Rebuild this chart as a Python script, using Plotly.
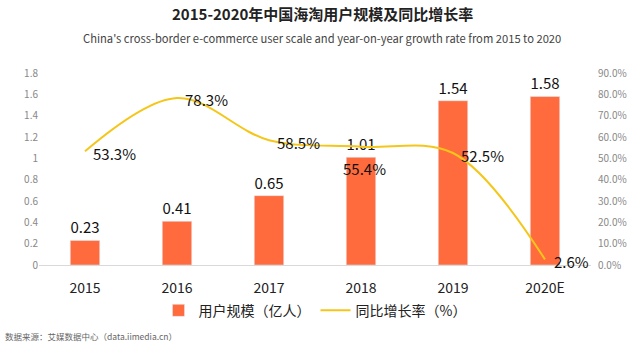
import plotly.graph_objects as go

years = ["2015", "2016", "2017", "2018", "2019", "2020E"]
users = [0.23, 0.41, 0.65, 1.01, 1.54, 1.58]
growth = [0.533, 0.783, 0.585, 0.554, 0.525, 0.026]
growth_labels = ["53.3%", "78.3%", "58.5%", "55.4%", "52.5%", "2.6%"]
left_ticks = [0, 0.2, 0.4, 0.6, 0.8, 1, 1.2, 1.4, 1.6, 1.8]
left_tick_text = ["0", "0.2", "0.4", "0.6", "0.8", "1", "1.2", "1.4", "1.6", "1.8"]
right_ticks = [0, 0.1, 0.2, 0.3, 0.4, 0.5, 0.6, 0.7, 0.8, 0.9]

# label placement for the growth line labels (anchor, xshift, yshift)
label_anchor = ["left", "left", "left", "center", "left", "left"]
label_xshift = [6, 6, 6, 3, 6, 7]
label_yshift = [-2, -2, -2, -22, -2, -2]

FONT = "Noto Sans CJK SC"
BAR_C = "#FF6B3D"
LINE_C = "#F5C61A"

fig = go.Figure()
fig.add_trace(go.Bar(
    x=years, y=users, name="用户规模（亿人）", marker_color=BAR_C,
    width=0.32, text=[f"{v:.2f}" for v in users], textposition="outside",
    textfont=dict(size=15, color="#111111", family=FONT), cliponaxis=False,
))
fig.add_trace(go.Scatter(
    x=years, y=growth, name="同比增长率（%）", yaxis="y2", mode="lines",
    line=dict(color=LINE_C, width=2, shape="spline", smoothing=1.0),
    cliponaxis=False,
))

annotations = [
    dict(text="<b>2015-2020年中国海淘用户规模及同比增长率</b>", xref="paper", yref="paper",
         x=0.5, y=(265 - 13) / 192, xanchor="center", yanchor="middle", showarrow=False,
         font=dict(size=15, color="#222222", family=FONT), xshift=7),
    dict(text="China's cross-border e-commerce user scale and year-on-year growth rate from 2015 to 2020",
         xref="paper", yref="paper", x=0.5, y=(265 - 38) / 192, xanchor="center", yanchor="middle",
         showarrow=False, font=dict(size=11.2, color="#444444", family=FONT), xshift=7),
    dict(text="数据来源：艾媒数据中心（data.iimedia.cn）", xref="paper", yref="paper",
         x=-39 / 552, y=(265 - 336) / 192, xanchor="left", yanchor="middle", showarrow=False,
         font=dict(size=8.5, color="#666666", family=FONT), xshift=3),
]
# category axis: annotation x is the category index
for idx, (g, lab, anc, xs, ys) in enumerate(zip(growth, growth_labels, label_anchor, label_xshift, label_yshift)):
    annotations.append(dict(
        text=lab, x=idx, y=g, xref="x", yref="y2", xanchor=anc, yanchor="middle",
        xshift=xs, yshift=ys, showarrow=False,
        font=dict(size=15, color="#111111", family=FONT),
    ))

fig.update_layout(
    width=640, height=348,
    margin=dict(l=39, r=49, t=73, b=83),
    paper_bgcolor="white", plot_bgcolor="white",
    font=dict(family=FONT, color="#333333"),
    showlegend=True,
    legend=dict(orientation="h", x=0.5, xanchor="center", y=-0.155, yanchor="top",
                font=dict(size=14, color="#222222", family=FONT), itemwidth=30,
                traceorder="normal"),
    xaxis=dict(type="category", categoryorder="array", categoryarray=years,
               showline=True, linecolor="#d9d9d9", linewidth=1, ticks="",
               tickfont=dict(size=14, color="#222222", family=FONT), showgrid=False,
               ticklabelstandoff=10),
    yaxis=dict(range=[0, 1.8], tickvals=left_ticks, ticktext=left_tick_text,
               showgrid=False, zeroline=False,
               tickfont=dict(size=10, color="#888888", family=FONT)),
    yaxis2=dict(range=[0, 0.9], tickvals=right_ticks, tickformat=".1%",
                overlaying="y", side="right", showgrid=False, zeroline=False,
                tickfont=dict(size=10, color="#888888", family=FONT),
                ticklabelstandoff=6),
    annotations=annotations,
)

fig.write_html("out.html")
